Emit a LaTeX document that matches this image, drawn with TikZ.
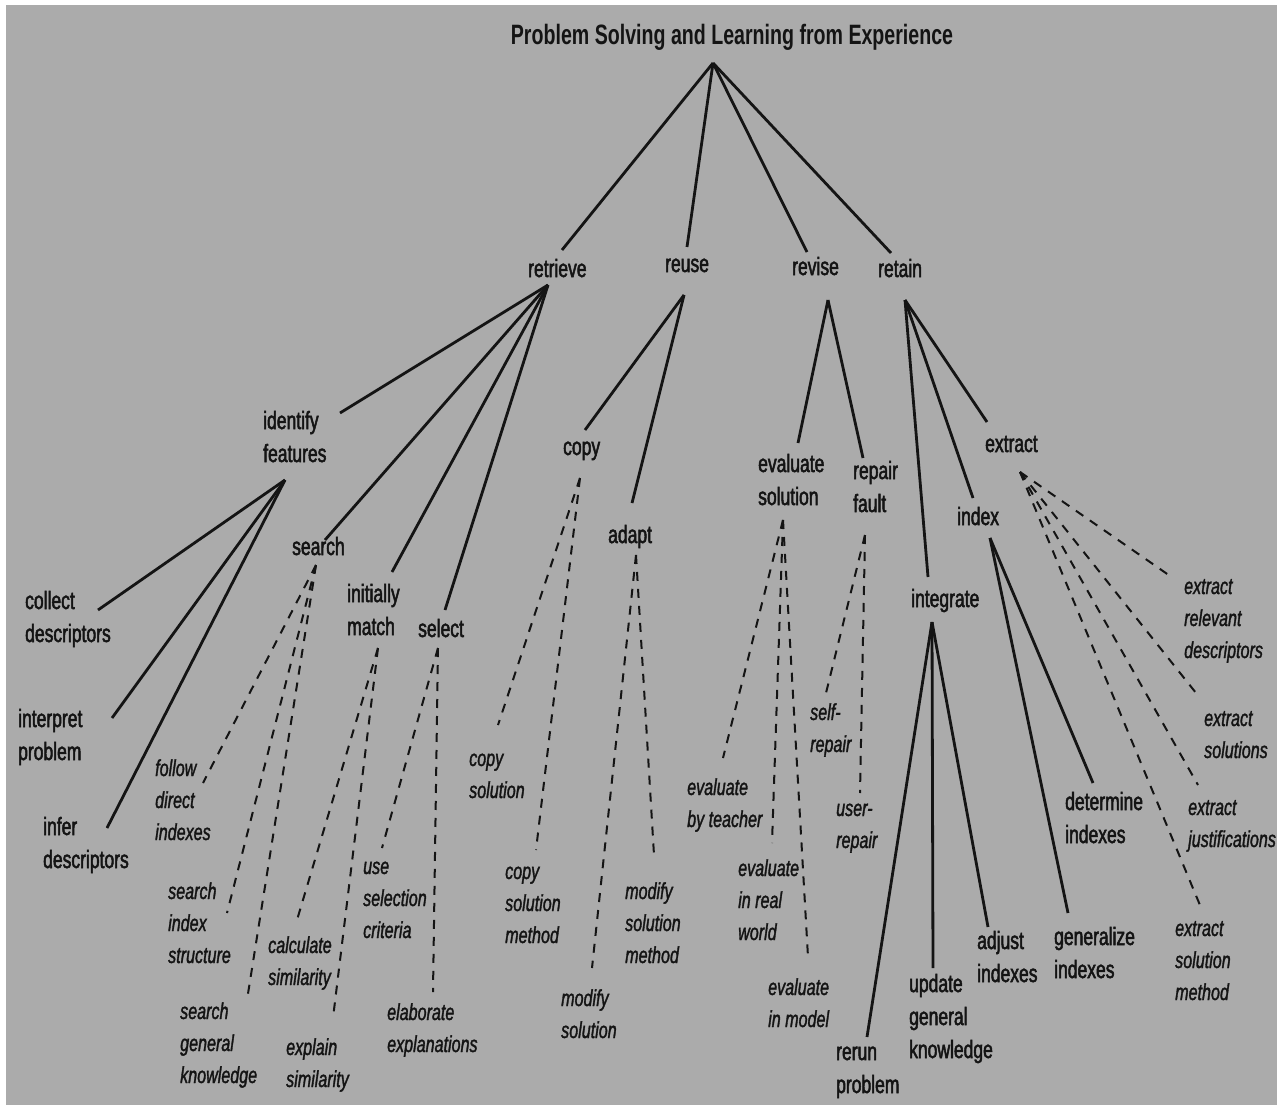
\documentclass[tikz,border=0pt]{standalone}
\usepackage{fontspec}
\setmainfont{Liberation Sans}[FakeStretch=0.7]
\newfontfamily\taskfont{Liberation Sans}[FakeStretch=0.7, FakeBold=2]
\newfontfamily\methodfont{Liberation Sans}[FakeStretch=0.7, FakeBold=1.4]
\usepackage{tikz}
\usetikzlibrary{positioning}
\usepackage{xcolor}
\definecolor{sheetgrey}{HTML}{ABABAB}
\definecolor{inkgrey}{HTML}{141414}

\begin{document}
\begin{tikzpicture}[
  x=1pt, y=-1pt,
  task/.style={inner sep=0pt, anchor=base west, align=left, text=inkgrey,
               font=\taskfont\fontsize{25}{33}\selectfont},
  method/.style={task, font=\methodfont\itshape\fontsize{23}{32}\selectfont},
  heading/.style={inner sep=0pt, anchor=base, text=inkgrey,
                  font=\bfseries\fontsize{28}{34}\selectfont},
  link/.style={draw=inkgrey, line width=2.8pt},
  dlink/.style={draw=inkgrey, line width=2pt, dash pattern=on 9pt off 8pt},
]
\useasboundingbox (0,0) rectangle (1282,1105);
\fill[white] (0,0) rectangle (1282,1105);
\fill[sheetgrey] (6,5) rectangle (1277,1105);

% top level (nodes sit on the baseline of their last line)
\node[heading] (ttl) at (732,45) {Problem Solving and Learning from Experience};
\node[task] (retr) at (528,277) {retrieve};
\node[task] (reuse) at (665,272) {reuse};
\node[task] (revise) at (792,275) {revise};
\node[task] (retain) at (878,277) {retain};

% retrieve
\node[task] (ident) at (263,462) {identify\\features};
\node[task] (srch) at (292,555) {search};
\node[task] (imatch) at (347,635) {initially\\match};
\node[task] (sel) at (418,637) {select};
\node[task] (coll) at (25,642) {collect\\descriptors};
\node[task] (interp) at (18,760) {interpret\\problem};
\node[task] (infer) at (43,868) {infer\\descriptors};
\node[method] (follow) at (155,840) {follow\\direct\\indexes};
\node[method] (sidx) at (168,963) {search\\index\\structure};
\node[method] (sgen) at (180,1083) {search\\general\\knowledge};
\node[method] (calc) at (268,985) {calculate\\similarity};
\node[method] (expl) at (286,1087) {explain\\similarity};
\node[method] (usesel) at (363,938) {use\\selection\\criteria};
\node[method] (elab) at (387,1052) {elaborate\\explanations};

% reuse
\node[task] (copy) at (563,455) {copy};
\node[task] (adapt) at (608,543) {adapt};
\node[method] (cpsol) at (469,798) {copy\\solution};
\node[method] (cpmeth) at (505,943) {copy\\solution\\method};
\node[method] (modsol) at (561,1038) {modify\\solution};
\node[method] (modmeth) at (625,963) {modify\\solution\\method};

% revise
\node[task] (evsol) at (758,505) {evaluate\\solution};
\node[task] (repair) at (853,512) {repair\\fault};
\node[method] (evteach) at (687,827) {evaluate\\by teacher};
\node[method] (evreal) at (738,940) {evaluate\\in real\\world};
\node[method] (evmodel) at (768,1027) {evaluate\\in model};
\node[method] (selfrep) at (810,752) {self-\\repair};
\node[method] (userrep) at (836,848) {user-\\repair};

% retain
\node[task] (integ) at (911,607) {integrate};
\node[task] (index) at (957,525) {index};
\node[task] (extr) at (985,452) {extract};
\node[task] (rerun) at (836,1093) {rerun\\problem};
\node[task] (update) at (909,1058) {update\\general\\knowledge};
\node[task] (adjust) at (977,982) {adjust\\indexes};
\node[task] (determ) at (1065,843) {determine\\indexes};
\node[task] (general) at (1054,978) {generalize\\indexes};
\node[method] (exrel) at (1184,658) {extract\\relevant\\descriptors};
\node[method] (exsol) at (1204,758) {extract\\solutions};
\node[method] (exjust) at (1188,847) {extract\\justifications};
\node[method] (exmeth) at (1175,1000) {extract\\solution\\method};

% fan points below the parents
\coordinate (ttl-f) at (713,63);
\coordinate (retr-f) at (548,285);
\coordinate (reuse-f) at (684,295);
\coordinate (revise-f) at (828,300);
\coordinate (retain-f) at (905,300);
\coordinate (ident-f) at (285,480);
\coordinate (srch-f) at (316,565);
\coordinate (imatch-f) at (378,648);
\coordinate (sel-f) at (438,648);
\coordinate (copy-f) at (580,478);
\coordinate (adapt-f) at (636,555);
\coordinate (evsol-f) at (783,520);
\coordinate (repair-f) at (865,535);
\coordinate (integ-f) at (932,622);
\coordinate (index-f) at (990,538);
\coordinate (extr-f) at (1020,472);

% line ends at the children
\coordinate (retr-t) at (562,250);
\coordinate (reuse-t) at (687,247);
\coordinate (revise-t) at (807,252);
\coordinate (retain-t) at (891,253);
\coordinate (ident-t) at (340,413);
\coordinate (srch-t) at (325,540);
\coordinate (imatch-t) at (392,572);
\coordinate (sel-t) at (445,610);
\coordinate (coll-t) at (98,610);
\coordinate (interp-t) at (112,718);
\coordinate (infer-t) at (107,828);
\coordinate (follow-t) at (203,783);
\coordinate (sidx-t) at (227,913);
\coordinate (sgen-t) at (247,1000);
\coordinate (calc-t) at (297,920);
\coordinate (expl-t) at (333,1018);
\coordinate (usesel-t) at (382,848);
\coordinate (elab-t) at (433,992);
\coordinate (copy-t) at (585,430);
\coordinate (adapt-t) at (632,503);
\coordinate (cpsol-t) at (498,725);
\coordinate (cpmeth-t) at (536,850);
\coordinate (modsol-t) at (592,968);
\coordinate (modmeth-t) at (654,855);
\coordinate (evsol-t) at (798,443);
\coordinate (repair-t) at (863,458);
\coordinate (evteach-t) at (723,758);
\coordinate (evreal-t) at (772,843);
\coordinate (evmodel-t) at (808,957);
\coordinate (selfrep-t) at (825,697);
\coordinate (userrep-t) at (860,793);
\coordinate (integ-t) at (928,577);
\coordinate (index-t) at (973,498);
\coordinate (extr-t) at (987,422);
\coordinate (rerun-t) at (867,1037);
\coordinate (update-t) at (933,968);
\coordinate (adjust-t) at (988,927);
\coordinate (determ-t) at (1093,783);
\coordinate (general-t) at (1068,913);
\coordinate (exrel-t) at (1173,578);
\coordinate (exsol-t) at (1200,698);
\coordinate (exjust-t) at (1198,785);
\coordinate (exmeth-t) at (1202,910);

% task decomposition (solid)
\foreach \p/\c in {ttl/retr, ttl/reuse, ttl/revise, ttl/retain,
                   retr/ident, retr/srch, retr/imatch, retr/sel,
                   ident/coll, ident/interp, ident/infer,
                   reuse/copy, reuse/adapt, revise/evsol, revise/repair,
                   retain/integ, retain/index, retain/extr,
                   integ/rerun, integ/update, integ/adjust,
                   index/determ, index/general}
  { \draw[link] (\p-f) -- (\c-t); }

% methods (dashed)
\foreach \p/\c in {srch/follow, srch/sidx, srch/sgen,
                   imatch/calc, imatch/expl, sel/usesel, sel/elab,
                   copy/cpsol, copy/cpmeth, adapt/modsol, adapt/modmeth,
                   evsol/evteach, evsol/evreal, evsol/evmodel,
                   repair/selfrep, repair/userrep,
                   extr/exrel, extr/exsol, extr/exjust, extr/exmeth}
  { \draw[dlink] (\p-f) -- (\c-t); }
\end{tikzpicture}
\end{document}
